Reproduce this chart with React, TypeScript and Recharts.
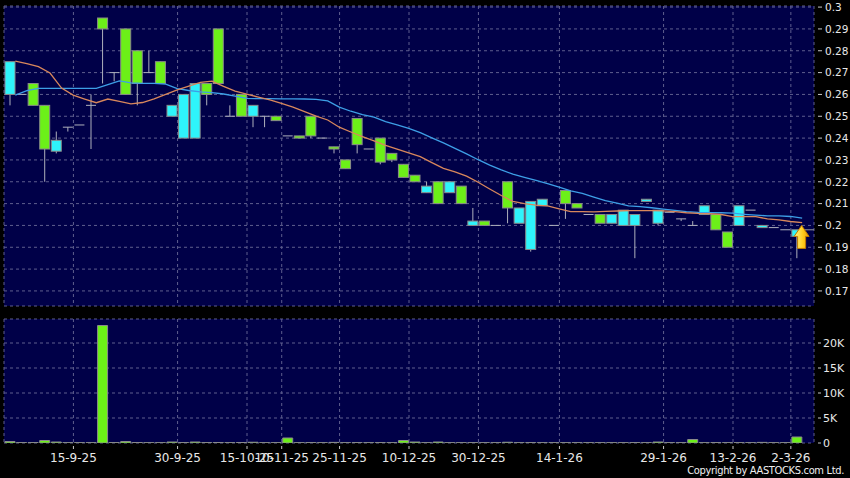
import React from 'react';
import { ComposedChart, Bar, Line, XAxis, YAxis, CartesianGrid, ReferenceDot, ReferenceLine } from 'recharts';

// one entry per trading day (days without trades are skipped by the source chart)
const opens = [
  0.26, 0.26, 0.265, 0.255, 0.234, 0.245, 0.246, 0.255, 0.295, 0.27,
  0.29, 0.28, 0.27, 0.275, 0.25, 0.24, 0.24, 0.265, 0.29, 0.25,
  0.26, 0.25, 0.25, 0.25, 0.241, 0.241, 0.25, 0.24, 0.236, 0.23,
  0.249, 0.235, 0.24, 0.233, 0.228, 0.223, 0.215, 0.22, 0.215, 0.218,
  0.2, 0.202, 0.2, 0.22, 0.201, 0.189, 0.209, 0.2, 0.216, 0.21,
  0.205, 0.205, 0.201, 0.2, 0.2, 0.211, 0.201, 0.206, 0.203, 0.2,
  0.205, 0.205, 0.197, 0.2, 0.207, 0.199, 0.199, 0.198, 0.195,
];
const highs = [
  0.275, 0.26, 0.265, 0.255, 0.243, 0.245, 0.246, 0.26, 0.295, 0.27,
  0.29, 0.28, 0.28, 0.275, 0.255, 0.26, 0.265, 0.265, 0.29, 0.255,
  0.26, 0.255, 0.25, 0.25, 0.241, 0.241, 0.25, 0.24, 0.236, 0.23,
  0.249, 0.235, 0.24, 0.233, 0.228, 0.223, 0.22, 0.22, 0.22, 0.218,
  0.208, 0.202, 0.2, 0.22, 0.208, 0.211, 0.212, 0.2, 0.216, 0.21,
  0.205, 0.205, 0.205, 0.207, 0.205, 0.212, 0.207, 0.206, 0.203, 0.202,
  0.209, 0.205, 0.197, 0.209, 0.207, 0.2, 0.199, 0.198, 0.198,
];
const lows = [
  0.255, 0.26, 0.255, 0.22, 0.233, 0.243, 0.246, 0.235, 0.265, 0.266,
  0.26, 0.255, 0.27, 0.265, 0.25, 0.24, 0.24, 0.255, 0.265, 0.25,
  0.25, 0.245, 0.245, 0.248, 0.241, 0.24, 0.24, 0.24, 0.233, 0.226,
  0.233, 0.235, 0.228, 0.229, 0.222, 0.22, 0.215, 0.21, 0.215, 0.21,
  0.2, 0.2, 0.2, 0.201, 0.201, 0.188, 0.209, 0.2, 0.203, 0.208,
  0.205, 0.201, 0.201, 0.2, 0.185, 0.211, 0.2, 0.206, 0.202, 0.2,
  0.205, 0.198, 0.19, 0.2, 0.207, 0.199, 0.199, 0.198, 0.185,
];
const closes = [
  0.275, 0.26, 0.255, 0.235, 0.239, 0.245, 0.246, 0.255, 0.29, 0.27,
  0.26, 0.265, 0.27, 0.265, 0.255, 0.26, 0.265, 0.26, 0.265, 0.25,
  0.25, 0.255, 0.25, 0.248, 0.241, 0.24, 0.241, 0.24, 0.235, 0.226,
  0.237, 0.235, 0.229, 0.23, 0.222, 0.22, 0.218, 0.21, 0.22, 0.21,
  0.202, 0.2, 0.2, 0.208, 0.208, 0.211, 0.212, 0.2, 0.21, 0.208,
  0.205, 0.201, 0.205, 0.207, 0.205, 0.212, 0.207, 0.206, 0.203, 0.2,
  0.209, 0.198, 0.19, 0.209, 0.207, 0.2, 0.199, 0.198, 0.198,
];
const ma10 = [
  0.2753, 0.2741, 0.2727, 0.2698, 0.2629, 0.2597, 0.2579, 0.2562, 0.2579, 0.2568,
  0.2557, 0.2563, 0.258, 0.26, 0.2621, 0.2638, 0.2655, 0.2661, 0.2637, 0.2615,
  0.2601, 0.2588, 0.2575, 0.2559, 0.2542, 0.2521, 0.2501, 0.2483, 0.245, 0.2428,
  0.2407, 0.2387, 0.2367, 0.2349, 0.2332, 0.2315, 0.2288, 0.2261, 0.2245, 0.2226,
  0.2198, 0.2167, 0.2137, 0.211, 0.21, 0.2093, 0.209, 0.2076, 0.2063, 0.2063,
  0.2062, 0.2064, 0.2066, 0.2068, 0.2068, 0.2068, 0.2067, 0.2063, 0.2058, 0.2055,
  0.2054, 0.205, 0.204, 0.204, 0.204, 0.203, 0.2025, 0.2018, 0.2013,
];
const ma20 = [
  0.2597, 0.2617, 0.2628, 0.2628, 0.2628, 0.2628, 0.2628, 0.2628, 0.2645, 0.2662,
  0.2653, 0.2651, 0.2651, 0.2647, 0.2627, 0.2618, 0.2612, 0.2608, 0.2602, 0.2592,
  0.2582, 0.2581, 0.2581, 0.258, 0.258, 0.2579, 0.2577, 0.257, 0.2542, 0.2523,
  0.2508, 0.2496, 0.2475, 0.246, 0.2445, 0.2425, 0.2401, 0.2378, 0.2353, 0.2328,
  0.2301, 0.2276, 0.2254, 0.2235, 0.222, 0.2206, 0.2192, 0.2175, 0.2158, 0.2147,
  0.213, 0.2114, 0.2102, 0.209, 0.2086, 0.2081, 0.2075, 0.2069, 0.2063, 0.206,
  0.2059, 0.2058, 0.2056, 0.2051, 0.2047, 0.2044, 0.2044, 0.2041, 0.2033,
];
const volumes = [
  300, 80, 80, 500, 200, 60, 60, 60, 23500, 80,
  300, 100, 60, 60, 200, 80, 200, 80, 100, 60,
  100, 150, 60, 60, 1000, 60, 80, 60, 120, 60,
  80, 60, 80, 60, 500, 200, 60, 200, 60, 60,
  60, 60, 60, 150, 60, 80, 60, 60, 60, 60,
  60, 60, 60, 60, 80, 60, 200, 60, 60, 700,
  60, 80, 60, 60, 60, 120, 60, 60, 1200,
];

const tickSlots = [6, 15, 21, 24, 29, 35, 41, 48, 57, 63, 68];
const tickLabels = ['15-9-25', '30-9-25', '15-10-25', '10-11-25', '25-11-25', '10-12-25', '30-12-25', '14-1-26', '29-1-26', '13-2-26', '2-3-26'];
const priceTicks = [0.17, 0.18, 0.19, 0.2, 0.21, 0.22, 0.23, 0.24, 0.25, 0.26, 0.27, 0.28, 0.29, 0.3];
const volumeTicks = [0, 5000, 10000, 15000, 20000];
const lastPrice = 0.198;
const arrowPrice = 0.2;

const SLOTS = 70;
const gridTicks = tickSlots.map((s) => s - 0.5);

const data = Array.from({ length: SLOTS }, (_, i) =>
  i < opens.length
    ? { i, open: opens[i], high: highs[i], low: lows[i], close: closes[i], ma10: ma10[i], ma20: ma20[i], volume: volumes[i] }
    : { i, open: null, high: null, low: null, close: null, ma10: null, ma20: null, volume: null }
);

const BG = '#000048';
const GRID = '#5e5e8e';
const CYAN = '#2ef4fb';
const GREEN = '#6cf018';
const EDGE = '#8a8a8a';
const WICK = '#aeb0bc';
const FONT = 'DejaVu Sans';

const candleRange = (d: any) => {
  if (d.open == null) return null;
  return d.high === d.low ? [d.low, d.high + 0.00001] : [d.low, d.high];
};

const Candle = (props: any) => {
  const { x, y, width, height, payload } = props;
  if (!payload || payload.open == null) return null;
  const { open, close, high, low } = payload;
  const span = high - low;
  const toY = (v: number) => (span > 0 ? y + ((high - v) / span) * height : y);
  const cx = x + width / 2;
  const top = toY(Math.max(open, close));
  const bot = toY(Math.min(open, close));
  if (open === close) {
    return (
      <g>
        {span > 0 && <line x1={cx} x2={cx} y1={toY(high)} y2={toY(low)} stroke={WICK} />}
        <line x1={x} x2={x + width} y1={top} y2={top} stroke={WICK} />
      </g>
    );
  }
  return (
    <g>
      <line x1={cx} x2={cx} y1={toY(high)} y2={toY(low)} stroke={WICK} />
      <rect x={x} y={top} width={width} height={Math.max(bot - top, 1)} fill={close > open ? CYAN : GREEN} stroke={EDGE} />
    </g>
  );
};

const Arrow = (props: any) => {
  const { cx, cy } = props;
  if (cx == null || cy == null) return null;
  const d = `M${cx},${cy} L${cx + 7.5},${cy + 11} L${cx + 4},${cy + 11} L${cx + 4},${cy + 23} L${cx - 4},${cy + 23} L${cx - 4},${cy + 11} L${cx - 7.5},${cy + 11} Z`;
  return (
    <g>
      <defs>
        <linearGradient id="arrowFill" x1="0" y1="0" x2="1" y2="0">
          <stop offset="0%" stopColor="#fff48a" />
          <stop offset="60%" stopColor="#ffcc1a" />
          <stop offset="100%" stopColor="#e89a00" />
        </linearGradient>
      </defs>
      <path d={d} fill="url(#arrowFill)" stroke="#c07a00" strokeWidth={1} />
    </g>
  );
};

const fmtPrice = (v: number) => String(Number(v.toFixed(2)));
const fmtVol = (v: number) => (v === 0 ? '0' : `${v / 1000}K`);

const PriceTick = (props: any) => {
  const { x, y, payload } = props;
  return (
    <g>
      <line x1={x + 4} x2={x + 8} y1={y} y2={y} stroke="#c8c8c8" />
      <text x={x + 11} y={y} dy="0.36em" fill="#e8e8e8" fontSize={10.5} fontFamily={FONT}>
        {fmtPrice(payload.value)}
      </text>
    </g>
  );
};

const VolTick = (props: any) => {
  const { x, y, payload } = props;
  return (
    <g>
      <line x1={x + 4} x2={x + 7} y1={y} y2={y} stroke="#c8c8c8" />
      <text x={x + 9} y={y} dy="0.36em" fill="#e8e8e8" fontSize={11} fontFamily={FONT}>
        {fmtVol(payload.value)}
      </text>
    </g>
  );
};

const DateTick = (props: any) => {
  const { x, y, payload } = props;
  const k = gridTicks.indexOf(payload.value);
  return (
    <g>
      <line x1={x} x2={x} y1={y + 3} y2={y + 6} stroke="#c8c8c8" />
      <text x={x} y={y + 19} textAnchor="middle" fill="#e8e8e8" fontSize={12} fontFamily={FONT}>
        {k >= 0 ? tickLabels[k] : ''}
      </text>
    </g>
  );
};

export default function App() {
  return (
    <div style={{ position: 'absolute', left: 0, top: 0, width: 850, height: 478, background: '#000', overflow: 'hidden' }}>
      <div style={{ position: 'absolute', left: 0, top: 0 }}>
        <ComposedChart width={850} height={312} data={data} margin={{ top: 6, right: 0, bottom: 6, left: 4 }}>
          <CartesianGrid xAxisId="num" yAxisId="p" fill={BG} stroke={GRID} strokeDasharray="3 3" />
          <XAxis xAxisId="cat" dataKey="i" type="category" height={0} hide />
          <XAxis xAxisId="num" dataKey="i" type="number" domain={[-0.5, 69.5]} ticks={gridTicks} height={0} allowDataOverflow hide />
          <XAxis xAxisId="ma" dataKey="i" type="number" domain={[-0.975, 69.025]} height={0} allowDataOverflow hide />
          <YAxis
            yAxisId="p"
            orientation="right"
            width={36}
            domain={[0.1631, 0.3005]}
            ticks={priceTicks}
            interval={0}
            allowDataOverflow
            axisLine={false}
            tickLine={false}
            tickSize={0}
            tickMargin={0}
            tick={<PriceTick />}
          />
          <Bar xAxisId="cat" yAxisId="p" dataKey={candleRange} barSize={10} shape={Candle} isAnimationActive={false} />
          <Line xAxisId="ma" yAxisId="p" dataKey="ma20" stroke="#3d9fe6" strokeWidth={1.3} dot={false} isAnimationActive={false} />
          <Line xAxisId="ma" yAxisId="p" dataKey="ma10" stroke="#d8875c" strokeWidth={1.3} dot={false} isAnimationActive={false} />
          <ReferenceLine
            xAxisId="num"
            yAxisId="p"
            segment={[{ x: 68.47, y: lastPrice }, { x: 69.5, y: lastPrice }]}
            stroke="#9a9a9a"
          />
          <ReferenceDot xAxisId="num" yAxisId="p" x={68.43} y={arrowPrice} r={8} shape={Arrow} />
        </ComposedChart>
      </div>
      <div style={{ position: 'absolute', left: 0, top: 312 }}>
        <ComposedChart width={850} height={166} data={data} margin={{ top: 7, right: 0, bottom: 13, left: 4 }}>
          <CartesianGrid xAxisId="num" yAxisId="v" fill={BG} stroke={GRID} strokeDasharray="3 3" />
          <XAxis
            xAxisId="num"
            dataKey="i"
            type="number"
            domain={[-0.5, 69.5]}
            ticks={gridTicks}
            interval={0}
            allowDataOverflow
            height={22}
            axisLine={false}
            tickLine={false}
            tickSize={0}
            tickMargin={0}
            tick={<DateTick />}
          />
          <XAxis xAxisId="cat" dataKey="i" type="category" height={0} hide />
          <YAxis
            yAxisId="v"
            orientation="right"
            width={36}
            domain={[0, 24800]}
            ticks={volumeTicks}
            interval={0}
            allowDataOverflow
            axisLine={false}
            tickLine={false}
            tickSize={0}
            tickMargin={0}
            tick={<VolTick />}
          />
          <Bar xAxisId="cat" yAxisId="v" dataKey="volume" barSize={10} fill={GREEN} stroke={EDGE} isAnimationActive={false} />
        </ComposedChart>
      </div>
      <div
        style={{
          position: 'absolute',
          right: 6,
          top: 465,
          color: '#f0f0f0',
          fontFamily: "'Liberation Sans Narrow', 'DejaVu Sans Condensed', sans-serif",
          fontSize: 11,
          letterSpacing: -0.33,
          lineHeight: '12px',
          whiteSpace: 'nowrap',
        }}
      >
        Copyright by AASTOCKS.com Ltd.
      </div>
    </div>
  );
}
